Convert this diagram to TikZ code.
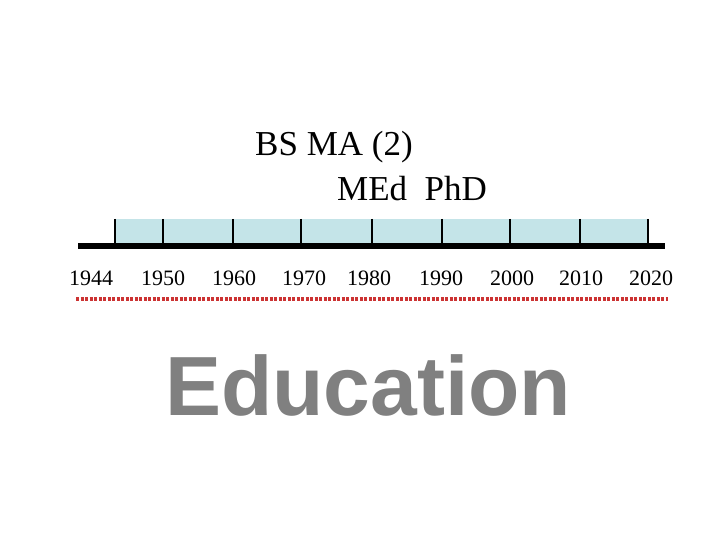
\documentclass[tikz,border=0pt]{standalone}
\usepackage{fontspec}
\setmainfont{Liberation Serif}
\setsansfont{Liberation Sans}
\definecolor{bandblue}{HTML}{C4E4E8}
\definecolor{titlegray}{HTML}{808080}
\definecolor{dotred}{HTML}{CC3333}

\begin{document}
\begin{tikzpicture}[x=1pt,y=-1pt,
    yearlabel/.style={inner sep=0pt, font=\fontsize{22}{22}\selectfont},
    degree/.style={anchor=base west, inner sep=0pt, font=\fontsize{35}{35}\selectfont}]
  \useasboundingbox (0,0) rectangle (720,540);
  % timeline band and ticks
  \fill[bandblue] (115,219) rectangle (648,243);
  \foreach \t in {115,163,233,301,372,442,510,580,648}
    \draw[line width=1.5pt] (\t,219) -- (\t,244);
  \draw[line width=6pt] (78,246) -- (665,246);
  % years
  \foreach \yr/\xp in {1944/91,1950/163,1960/234,1970/304,1980/369,1990/441,2000/512,2010/581,2020/651}
    \node[yearlabel] (y\yr) at (\xp,278) {\yr};
  \draw[dotred, line width=3.5pt, dash pattern=on 3pt off 1.5pt] (76,299) -- (668,299);
  % degrees
  \node[degree] (bs) at (255,156) {BS MA (2)};
  \node[degree] (med) at (337,201) {MEd\ \ PhD};
  \node[anchor=base west, inner sep=0pt, text=titlegray,
        font=\sffamily\bfseries\fontsize{84}{84}\selectfont] (edu) at (165,415) {Education};
\end{tikzpicture}
\end{document}
